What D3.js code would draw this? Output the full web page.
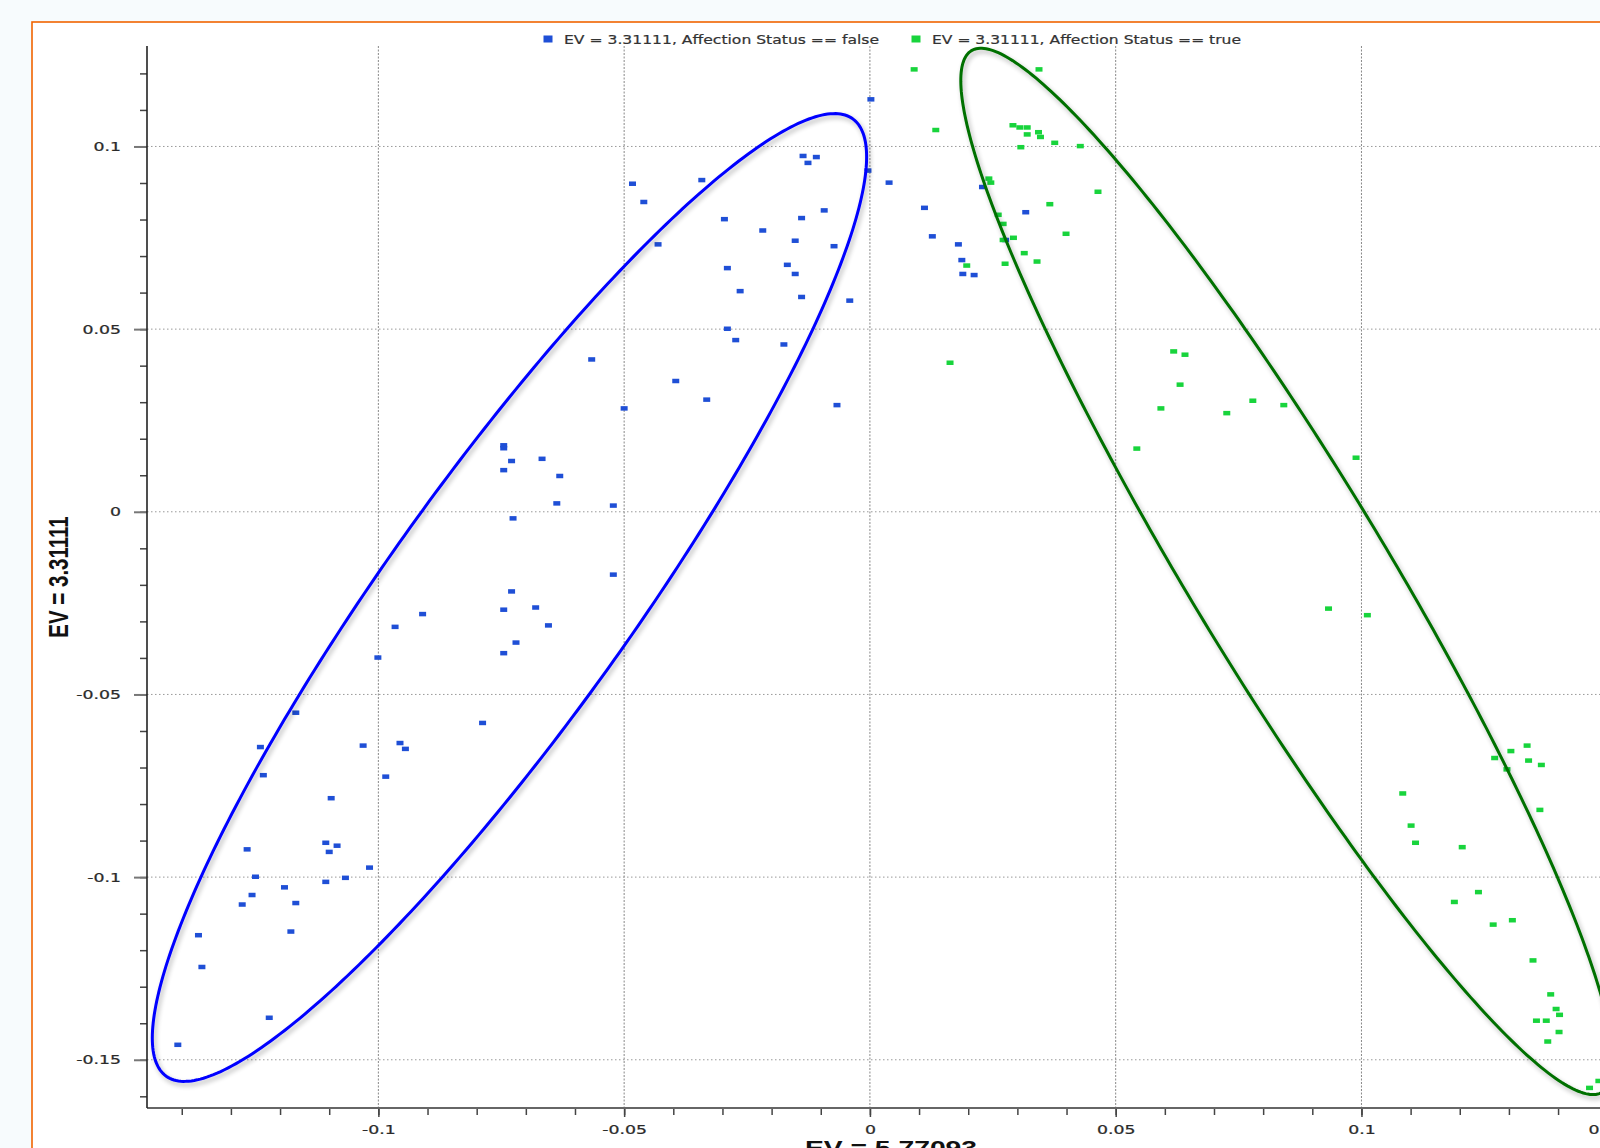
<!DOCTYPE html>
<html><head><meta charset="utf-8">
<script src="https://cdn.jsdelivr.net/npm/d3@7"></script>
<style>html,body{margin:0;padding:0;background:#f7fbfd;overflow:hidden}</style>
</head><body>
<svg id="chart" width="1600" height="1148"></svg>
<script>
// ---- data ----
const seriesNames = ["EV = 3.31111, Affection Status == false", "EV = 3.31111, Affection Status == true"];
const xTitle = "EV = 5.77093";
const yTitle = "EV = 3.31111";
const xMajorTicks = [-0.1, -0.05, 0, 0.05, 0.1, 0.15];
const xTickLabels = ["-0.1", "-0.05", "0", "0.05", "0.1", "0.15"];
const yMajorTicks = [-0.15, -0.1, -0.05, 0, 0.05, 0.1];
const yTickLabels = ["-0.15", "-0.1", "-0.05", "0", "0.05", "0.1"];

const falseX = [-0.0483,-0.0460,-0.0566,-0.0500,-0.0745,-0.0745,-0.0729,-0.0745,-0.0667,-0.0631,-0.0637,-0.0522,-0.0726,-0.0522,
  0.0002,-0.0136,-0.0109,-0.0126,-0.0342,-0.0004,0.0039,-0.0296,-0.0139,-0.0093,-0.0431,-0.0218,-0.0152,-0.0073,-0.0290,-0.0168,
  -0.0152,-0.0264,-0.0139,-0.0041,-0.0290,-0.0273,-0.0175,-0.0395,-0.0332,-0.0067,0.0111,0.0127,0.0180,0.0187,0.0189,0.0212,
  0.0229,0.0317,0.0276,-0.0729,-0.0745,-0.0680,-0.0654,-0.0910,-0.0966,-0.1001,-0.0720,-0.0745,-0.0788,-0.1168,-0.1240,-0.1234,
  -0.1031,-0.0956,-0.0945,-0.0985,-0.1096,-0.1107,-0.1084,-0.1100,-0.1018,-0.1067,-0.1107,-0.1267,-0.1250,-0.1257,-0.1277,
  -0.1191,-0.1168,-0.1178,-0.1366,-0.1359,-0.1222,-0.1408];
const falseY = [0.0898,0.0848,0.0417,0.0283,0.0182,0.0174,0.0139,0.0114,0.0145,0.0098,0.0023,0.0017,-0.0018,-0.0172,
  0.1129,0.0974,0.0971,0.0955,0.0908,0.0934,0.0901,0.0801,0.0804,0.0825,0.0732,0.0770,0.0742,0.0727,0.0667,0.0676,
  0.0651,0.0604,0.0588,0.0578,0.0501,0.0470,0.0458,0.0358,0.0307,0.0292,0.0832,0.0754,0.0732,0.0689,0.0651,0.0648,
  0.0889,0.0820,0.0744,-0.0218,-0.0268,-0.0262,-0.0311,-0.0280,-0.0315,-0.0399,-0.0358,-0.0387,-0.0578,-0.0550,-0.0644,-0.0721,
  -0.0640,-0.0633,-0.0649,-0.0725,-0.0784,-0.0906,-0.0914,-0.0931,-0.0974,-0.1002,-0.1013,-0.0924,-0.0999,-0.1049,-0.1075,
  -0.1028,-0.1071,-0.1149,-0.1159,-0.1246,-0.1385,-0.1459];

const trueX = [0.0090,0.0344,0.0134,0.0291,0.0305,0.0320,0.0320,0.0343,0.0347,0.0376,0.0307,0.0428,0.0242,0.0246,0.0464,
  0.0366,0.0261,0.0271,0.0399,0.0271,0.0292,0.0314,0.0340,0.0275,0.0197,0.0163,0.0618,0.0641,0.0631,0.0592,0.0726,0.0779,
  0.0842,0.0543,0.0989,0.0933,0.1012,0.1271,0.1304,0.1337,0.1296,0.1340,0.1366,0.1363,0.1084,0.1101,0.1110,0.1205,0.1189,
  0.1238,0.1268,0.1307,0.1349,0.1385,0.1396,0.1403,0.1356,0.1376,0.1402,0.1379,0.1464,0.1483];
const trueY = [0.1211,0.1211,0.1045,0.1058,0.1052,0.1052,0.1033,0.1039,0.1026,0.1010,0.0998,0.1001,0.0912,0.0901,0.0876,
  0.0842,0.0813,0.0788,0.0761,0.0744,0.0750,0.0708,0.0685,0.0679,0.0674,0.0408,0.0439,0.0430,0.0348,0.0283,0.0270,0.0304,
  0.0292,0.0173,0.0148,-0.0265,-0.0283,-0.0674,-0.0655,-0.0640,-0.0705,-0.0681,-0.0693,-0.0816,-0.0771,-0.0859,-0.0906,-0.0918,-0.1068,
  -0.1041,-0.1130,-0.1118,-0.1228,-0.1321,-0.1361,-0.1377,-0.1393,-0.1393,-0.1424,-0.1450,-0.1577,-0.1558];

// annotation ellipses in data units: centre and two conjugate half-axes
const ellipseCenters = [[-0.07333, -0.02346], [0.08485, -0.01632]];
const ellipseAxisA   = [[0.06983, 0.13103], [0.06418, -0.14255]];
const ellipseAxisB   = [[0.02008, -0.01938], [0.01687, 0.01374]];
const ellipseColors  = ["#0000ff", "#007000"];

// ---- layout ----
const W = 1600, H = 1148;
const plotLeft = 147, plotTop = 46, plotBottom = 1108, plotRight = 1635;
const SX = 1.33; // horizontal text stretch of the original rendering
const pointColors = ["#1f4fd6", "#18d43c"];

const x = d3.scaleLinear().domain([-0.14707, 0.15565]).range([plotLeft, plotRight]);
const y = d3.scaleLinear().domain([-0.1632, 0.1275]).range([plotBottom, plotTop]);

const svg = d3.select("#chart");
const defs = svg.append("defs");
const f = defs.append("filter").attr("id", "shadow").attr("filterUnits", "userSpaceOnUse")
  .attr("x", 0).attr("y", 0).attr("width", W).attr("height", H);
f.append("feGaussianBlur").attr("in", "SourceAlpha").attr("stdDeviation", 2.5).attr("result", "b");
f.append("feOffset").attr("in", "b").attr("dx", 2).attr("dy", 3).attr("result", "o");
f.append("feComponentTransfer").attr("in", "o").attr("result", "s")
  .append("feFuncA").attr("type", "linear").attr("slope", 0.3);
const fm = f.append("feMerge");
fm.append("feMergeNode").attr("in", "s");
fm.append("feMergeNode").attr("in", "SourceGraphic");

// background + frame
svg.append("rect").attr("width", W).attr("height", H).attr("fill", "#f7fbfd");
svg.append("rect").attr("x", 32).attr("y", 22).attr("width", W + 20).attr("height", H + 20)
  .attr("fill", "#ffffff").attr("stroke", "#f06400").attr("stroke-width", 1.6);

// grid
const g = svg.append("g");
g.selectAll("line.hg").data(yMajorTicks).join("line").attr("class", "hg")
  .attr("x1", plotLeft).attr("x2", W).attr("y1", d => y(d)).attr("y2", d => y(d))
  .attr("stroke", "#999").attr("stroke-width", 1).attr("stroke-dasharray", "1.5,2.5");
g.selectAll("line.vg").data(xMajorTicks).join("line").attr("class", "vg")
  .attr("x1", d => x(d)).attr("x2", d => x(d)).attr("y1", plotTop).attr("y2", plotBottom)
  .attr("stroke", "#888").attr("stroke-width", 1).attr("stroke-dasharray", "2,1.5");

// axes
const fontTick = "'DejaVu Sans', Verdana, sans-serif";
const xMinor = d3.range(-14, 16).map(i => i / 100);
const yMinor = d3.range(-16, 13).map(i => i / 100);

const xAxisMinor = svg.append("g").attr("transform", `translate(0,${plotBottom})`)
  .call(d3.axisBottom(x).tickValues(xMinor).tickSize(7).tickSizeOuter(0).tickFormat(""));
const xAxisMajor = svg.append("g").attr("transform", `translate(0,${plotBottom})`)
  .call(d3.axisBottom(x).tickValues(xMajorTicks).tickSize(9).tickSizeOuter(0).tickPadding(8)
    .tickFormat((d, i) => xTickLabels[i]));
const yAxisMinor = svg.append("g").attr("transform", `translate(${plotLeft},0)`)
  .call(d3.axisLeft(y).tickValues(yMinor).tickSize(7).tickSizeOuter(0).tickFormat(""));
const yAxisMajor = svg.append("g").attr("transform", `translate(${plotLeft},0)`)
  .call(d3.axisLeft(y).tickValues(yMajorTicks).tickSize(13).tickSizeOuter(0)
    .tickFormat((d, i) => yTickLabels[i]));
[xAxisMinor, xAxisMajor, yAxisMinor, yAxisMajor].forEach(a => {
  a.select(".domain").remove();
  a.selectAll(".tick line").attr("stroke", "#444").attr("stroke-width", 1.5);
  a.selectAll("text").attr("font-family", fontTick).attr("font-size", 13).attr("fill", "#2a2a2a")
    .attr("stroke", "#2a2a2a").attr("stroke-width", 0.25);
});
yAxisMajor.selectAll(".tick line").attr("stroke", "#777").attr("stroke-width", 2);
xAxisMajor.selectAll("text").attr("transform", `scale(${SX},1)`);
yAxisMajor.selectAll("text").attr("x", -26 / SX).attr("transform", `scale(${SX},1)`);

svg.append("line").attr("x1", plotLeft).attr("x2", W).attr("y1", plotBottom).attr("y2", plotBottom)
  .attr("stroke", "#666").attr("stroke-width", 2);
svg.append("line").attr("x1", plotLeft).attr("x2", plotLeft).attr("y1", plotTop).attr("y2", plotBottom)
  .attr("stroke", "#222").attr("stroke-width", 1.6);

// points
const series = [
  d3.zip(falseX, falseY),
  d3.zip(trueX, trueY)
];
const mw = 7, mh = 4.5;
series.forEach((pts, si) => {
  svg.append("g").selectAll("rect").data(pts).join("rect")
    .attr("x", d => x(d[0]) - mw / 2).attr("y", d => y(d[1]) - mh / 2)
    .attr("width", mw).attr("height", mh).attr("fill", pointColors[si]);
});

// ellipses
const angles = d3.range(0, 360, 1).map(a => a * Math.PI / 180);
const line = d3.line().x(d => x(d[0])).y(d => y(d[1])).curve(d3.curveLinearClosed);
ellipseCenters.forEach((c, i) => {
  const A = ellipseAxisA[i], B = ellipseAxisB[i];
  const pts = angles.map(t => [c[0] + A[0] * Math.cos(t) + B[0] * Math.sin(t),
                               c[1] + A[1] * Math.cos(t) + B[1] * Math.sin(t)]);
  svg.append("path").attr("d", line(pts)).attr("fill", "none")
    .attr("stroke", ellipseColors[i]).attr("stroke-width", 3).attr("filter", "url(#shadow)");
});

// legend
const legendSquareX = [548, 916], legendTextX = [564, 932], legendTextW = [315, 309];
const legendY = 39;
seriesNames.forEach((name, i) => {
  svg.append("rect").attr("x", legendSquareX[i] - 4.5).attr("y", legendY - 3.5)
    .attr("width", 9).attr("height", 7).attr("fill", pointColors[i]);
  svg.append("text").attr("x", legendTextX[i]).attr("y", legendY + 4.5)
    .attr("font-family", fontTick).attr("font-size", 12).attr("fill", "#333")
    .attr("stroke", "#333").attr("stroke-width", 0.2)
    .attr("textLength", legendTextW[i]).attr("lengthAdjust", "spacingAndGlyphs")
    .text(name);
});

// titles
const fontTitle = "'Liberation Sans', Arial, sans-serif";
svg.append("text").attr("transform", `translate(${(plotLeft + plotRight) / 2},1155) scale(1.38,1)`)
  .attr("text-anchor", "middle").attr("font-family", fontTitle).attr("font-weight", "bold")
  .attr("font-size", 20.5).attr("fill", "#111").text(xTitle);
svg.append("text").attr("transform", `translate(68,${(plotTop + plotBottom) / 2}) scale(${SX},1) rotate(-90)`)
  .attr("text-anchor", "middle").attr("font-family", fontTitle).attr("font-weight", "bold")
  .attr("font-size", 20.5).attr("fill", "#111").text(yTitle);
</script>
</body></html>
